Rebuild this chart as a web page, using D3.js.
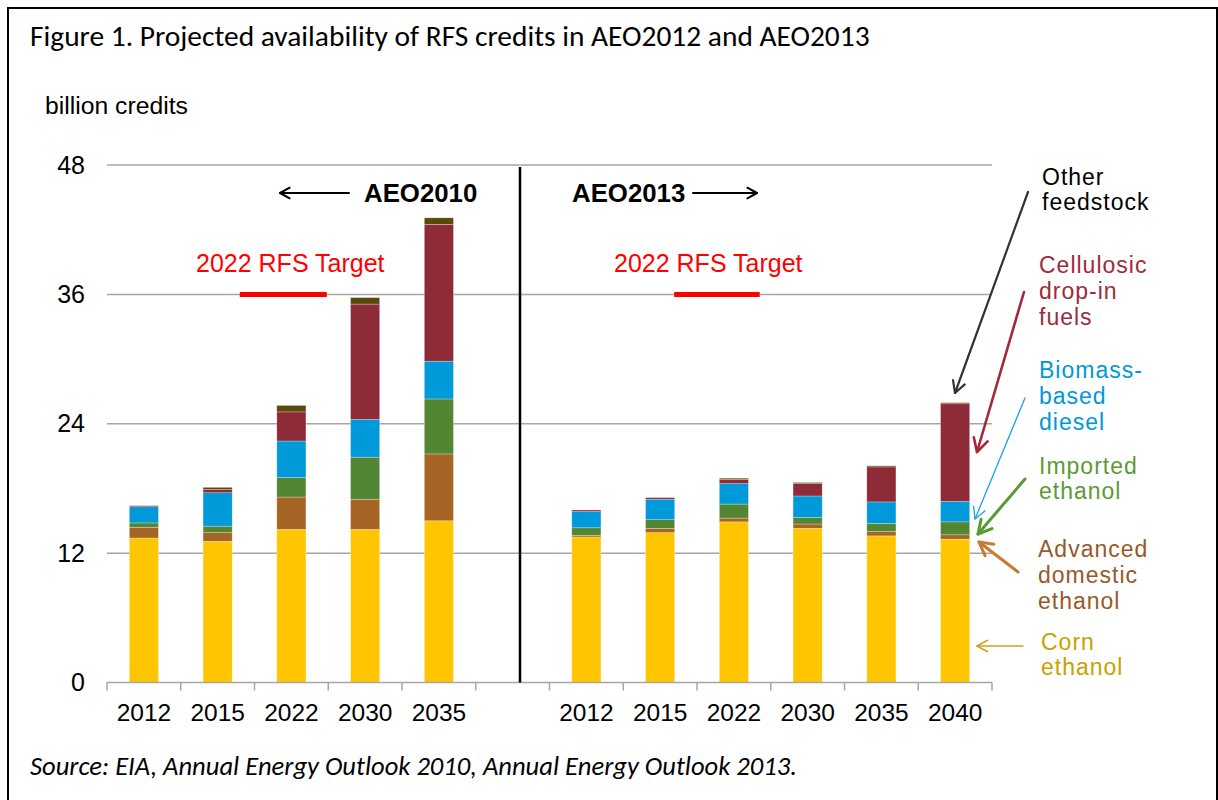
<!DOCTYPE html>
<html>
<head>
<meta charset="utf-8">
<script src="https://cdn.jsdelivr.net/npm/d3@7"></script>
<style>
  html, body { margin: 0; padding: 0; background: #fff; }
  svg { display: block; }
</style>
</head>
<body>
<svg id="chart" width="1218" height="800"></svg>
<script>
// ---------- DATA ----------
const years2010 = ["2012", "2015", "2022", "2030", "2035"];
const years2013 = ["2012", "2015", "2022", "2030", "2035", "2040"];

const seriesNames = ["Corn ethanol", "Advanced domestic ethanol", "Imported ethanol",
                     "Biomass-based diesel", "Cellulosic drop-in fuels", "Other feedstock"];

// AEO2010 (left group), billion credits
const corn2010       = [13.4, 13.1, 14.2, 14.2, 15.0];
const advanced2010   = [1.0, 0.8, 3.0, 2.8, 6.2];
const imported2010   = [0.4, 0.6, 1.8, 3.9, 5.1];
const biomass2010    = [1.5, 3.1, 3.4, 3.5, 3.5];
const cellulosic2010 = [0.1, 0.3, 2.7, 10.7, 12.7];
const other2010      = [0.0, 0.2, 0.6, 0.6, 0.6];

// AEO2013 (right group), billion credits
const corn2013       = [13.5, 13.9, 14.9, 14.3, 13.6, 13.3];
const advanced2013   = [0.15, 0.4, 0.35, 0.4, 0.4, 0.4];
const imported2013   = [0.7, 0.8, 1.3, 0.6, 0.75, 1.2];
const biomass2013    = [1.5, 1.9, 1.9, 2.0, 2.0, 1.9];
const cellulosic2013 = [0.15, 0.15, 0.4, 1.15, 3.25, 9.05];
const other2013      = [0.0, 0.0, 0.1, 0.1, 0.1, 0.1];

const yTicks = [0, 12, 24, 36, 48];
const rfsTarget = 36;

// ---------- BUILD TABLE ----------
const rows = [];
years2010.forEach((yr, i) => rows.push({
  key: "A10-" + yr, label: yr,
  values: [corn2010[i], advanced2010[i], imported2010[i], biomass2010[i], cellulosic2010[i], other2010[i]]
}));
rows.push({ key: "gap", label: "", values: null });
years2013.forEach((yr, i) => rows.push({
  key: "A13-" + yr, label: yr,
  values: [corn2013[i], advanced2013[i], imported2013[i], biomass2013[i], cellulosic2013[i], other2013[i]]
}));

const barColors = ["#FFC600", "#A66524", "#538632", "#0099D9", "#8E2B38", "#594A0C"];

// ---------- LAYOUT ----------
const svg = d3.select("#chart");

// frame
svg.append("rect").attr("x", 8).attr("y", 8).attr("width", 1209).attr("height", 820)
  .attr("fill", "none").attr("stroke", "#000").attr("stroke-width", 2);

const x = d3.scaleBand().domain(rows.map(d => d.key)).range([107, 992]).padding(0);
const y = d3.scaleLinear().domain([0, 48]).range([682.5, 165]);
const bw = x.bandwidth();
const barW = bw * 0.395;

const AR = "'Liberation Sans', Arial, sans-serif";

// gridlines
svg.append("g").selectAll("line").data(yTicks.filter(t => t > 0)).join("line")
  .attr("x1", 107).attr("x2", 992)
  .attr("y1", d => y(d)).attr("y2", d => y(d))
  .attr("stroke", "#A6A6A6").attr("stroke-width", 1.5);

// bars
const stacked = rows.filter(r => r.values);
const gBars = svg.append("g");
stacked.forEach(r => {
  let acc = 0;
  r.values.forEach((v, si) => {
    if (v <= 0) { return; }
    const y0 = acc, y1 = acc + v;
    acc = y1;
    gBars.append("rect")
      .attr("x", x(r.key) + (bw - barW) / 2)
      .attr("width", barW)
      .attr("y", y(y1))
      .attr("height", y(y0) - y(y1))
      .attr("fill", barColors[si])
      .attr("stroke", "rgba(255,255,255,0.45)")
      .attr("stroke-width", 0.6);
  });
});

// x baseline and ticks
svg.append("line").attr("x1", 107).attr("x2", 992).attr("y1", y(0)).attr("y2", y(0))
  .attr("stroke", "#A6A6A6").attr("stroke-width", 1.5);
const boundaries = rows.map(d => x(d.key)).concat([x(rows[rows.length - 1].key) + bw]);
svg.append("g").selectAll("line").data(boundaries).join("line")
  .attr("x1", d => d).attr("x2", d => d)
  .attr("y1", y(0)).attr("y2", y(0) + 8)
  .attr("stroke", "#A6A6A6").attr("stroke-width", 1.5);

// x axis labels
const xAxis = d3.axisBottom(x).tickSize(0).tickPadding(21)
  .tickFormat(k => (rows.find(r => r.key === k) || {}).label || "");
const gx = svg.append("g").attr("transform", `translate(0,${y(0)})`).call(xAxis);
gx.select(".domain").remove();
gx.selectAll("text").attr("font-family", AR).attr("font-size", 24.5).attr("fill", "#000");

// y axis labels
const yAxis = d3.axisLeft(y).tickValues(yTicks).tickSize(0).tickPadding(22);
const gy = svg.append("g").attr("transform", "translate(107,0)").call(yAxis);
gy.select(".domain").remove();
gy.selectAll("text").attr("font-family", AR).attr("font-size", 25).attr("fill", "#000");

// divider line between outlooks
const gapX = x("gap") + bw * 0.6;
svg.append("line").attr("x1", gapX).attr("x2", gapX).attr("y1", 167).attr("y2", y(0))
  .attr("stroke", "#000").attr("stroke-width", 2.5);

// ---------- ARROW HELPER ----------
function arrow(x1, y1, x2, y2, color, sw, head) {
  const g = svg.append("g").attr("stroke", color).attr("stroke-width", sw)
    .attr("fill", "none").attr("stroke-linecap", "round").attr("stroke-linejoin", "round");
  g.append("line").attr("x1", x1).attr("y1", y1).attr("x2", x2).attr("y2", y2);
  const a = Math.atan2(y2 - y1, x2 - x1);
  const sp = 0.5;
  const p1 = [x2 - head * Math.cos(a - sp), y2 - head * Math.sin(a - sp)];
  const p2 = [x2 - head * Math.cos(a + sp), y2 - head * Math.sin(a + sp)];
  g.append("path").attr("d", `M${p1[0]},${p1[1]} L${x2},${y2} L${p2[0]},${p2[1]}`);
}

// ---------- RFS targets ----------
const leftTargetX1 = x("A10-2015") + bw * 0.8, leftTargetX2 = x("A10-2022") + bw * 0.98;
const rightTargetX1 = x("A13-2015") + bw * 0.69, rightTargetX2 = x("A13-2022") + bw * 0.85;
const targetTextX = [196, 614];
[[leftTargetX1, leftTargetX2], [rightTargetX1, rightTargetX2]].forEach(([a, b], i) => {
  svg.append("line").attr("x1", a).attr("x2", b).attr("y1", y(rfsTarget)).attr("y2", y(rfsTarget))
    .attr("stroke", "#FF0000").attr("stroke-width", 5);
  svg.append("text").attr("x", targetTextX[i]).attr("y", 272)
    .attr("font-family", AR).attr("font-size", 25)
    .attr("fill", "#FF0000").text("2022 RFS Target");
});

// ---------- AEO labels ----------
svg.append("text").attr("x", 364).attr("y", 202).attr("font-family", AR)
  .attr("font-weight", "bold").attr("font-size", 25.8).attr("fill", "#000").text("AEO2010");
arrow(349, 193, 280, 193, "#000", 2, 11);
svg.append("text").attr("x", 572).attr("y", 202).attr("font-family", AR)
  .attr("font-weight", "bold").attr("font-size", 25.8).attr("fill", "#000").text("AEO2013");
arrow(693, 193, 757, 193, "#000", 2, 11);

// ---------- Legend annotations ----------
const LEG_FS = 23, LEG_LH = 25.8;
const legendLines = [
  { lines: ["Other", "feedstock"], color: "#000000", x: 1042, y: 184.5 },
  { lines: ["Cellulosic", "drop-in", "fuels"], color: "#9B2C3C", x: 1039, y: 273 },
  { lines: ["Biomass-", "based", "diesel"], color: "#0098D8", x: 1039, y: 378 },
  { lines: ["Imported", "ethanol"], color: "#5B9A34", x: 1039, y: 473.5 },
  { lines: ["Advanced", "domestic", "ethanol"], color: "#98592A", x: 1038, y: 557 },
  { lines: ["Corn", "ethanol"], color: "#C9A100", x: 1041, y: 649.5 }
];
legendLines.forEach(l => {
  l.lines.forEach((s, i) => {
    svg.append("text").attr("x", l.x).attr("y", l.y + i * LEG_LH)
      .attr("font-family", AR).attr("font-size", LEG_FS).attr("letter-spacing", 1)
      .attr("fill", l.color).text(s);
  });
});

arrow(1028, 192, 955, 393, "#333333", 2.2, 13);
arrow(1024, 292, 977, 452, "#A3283A", 2.6, 15);
arrow(1025, 398, 975, 519, "#1AA3E3", 1.3, 13);
arrow(1025, 479, 978, 534, "#5A9A32", 3, 15);
arrow(1018, 572, 979, 542, "#C87A33", 3, 15);
arrow(1023, 646, 977, 646, "#D4A017", 1.5, 12);

// ---------- Titles ----------
function fitText(sel, target) {
  const w = sel.node().getComputedTextLength();
  const fs = parseFloat(sel.attr("font-size"));
  if (w > 0) sel.attr("font-size", fs * target / w);
}
const CAL = "Carlito, 'Liberation Sans Narrow', 'Open Sans', sans-serif";
const title = svg.append("text").attr("x", 30).attr("y", 46).attr("font-family", CAL)
  .attr("font-size", 26).attr("fill", "#000")
  .text("Figure 1. Projected availability of RFS credits in AEO2012 and AEO2013");
fitText(title, 840);

svg.append("text").attr("x", 45).attr("y", 114).attr("font-family", AR)
  .attr("font-size", 24).attr("fill", "#000").text("billion credits")
  .call(s => fitText(s, 143));

const src = svg.append("text").attr("x", 30).attr("y", 775).attr("font-family", CAL)
  .attr("font-style", "italic").attr("font-size", 22).attr("fill", "#000")
  .text("Source: EIA, Annual Energy Outlook 2010, Annual Energy Outlook 2013.");
fitText(src, 767);
</script>
</body>
</html>
